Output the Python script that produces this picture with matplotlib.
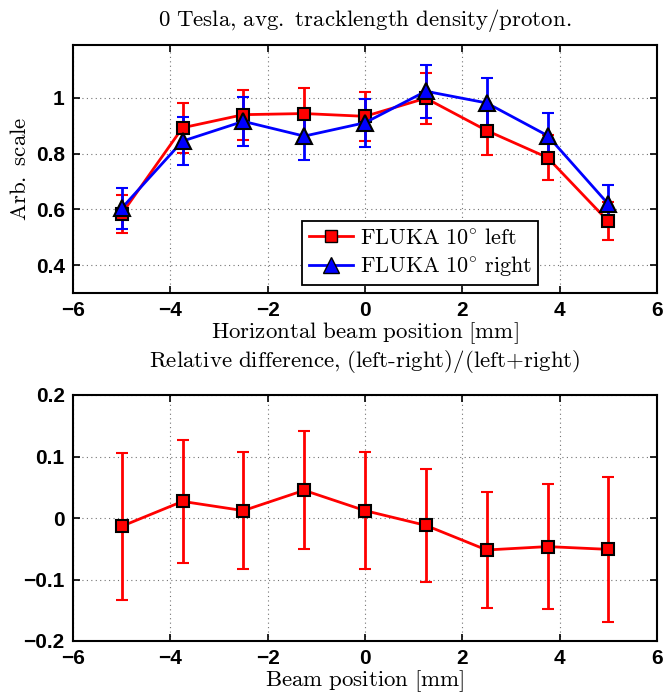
import matplotlib
matplotlib.use("Agg")
import matplotlib.pyplot as plt
from matplotlib.lines import Line2D
import numpy as np

plt.rcParams['mathtext.fontset'] = 'cm'

x = [-5, -3.75, -2.5, -1.25, 0, 1.25, 2.5, 3.75, 5]
left_vals = [0.584, 0.893, 0.940, 0.944, 0.934, 0.999, 0.883, 0.786, 0.557]
left_err = [0.068, 0.090, 0.090, 0.090, 0.089, 0.092, 0.087, 0.082, 0.068]
right_vals = [0.604, 0.845, 0.916, 0.863, 0.911, 1.024, 0.982, 0.865, 0.619]
right_err = [0.073, 0.085, 0.087, 0.085, 0.087, 0.095, 0.090, 0.082, 0.067]
diff_vals = [-0.0135, 0.027, 0.012, 0.045, 0.012, -0.012, -0.052, -0.0465, -0.051]
diff_err = [0.120, 0.100, 0.095, 0.096, 0.0955, 0.092, 0.095, 0.101, 0.118]

W, H = 670, 699
fig = plt.figure(figsize=(W/100, H/100), dpi=100)

def box(l, t, r, b):
    return [l/W, 1 - b/H, (r-l)/W, (b-t)/H]

ax1 = fig.add_axes(box(73, 45, 657, 293))
ax2 = fig.add_axes(box(73, 395, 657, 641))

tickfont = dict(family='Liberation Sans', weight='bold', size=15)
FS = 16.5

def style(ax):
    ax.grid(True, linestyle=(0, (1, 3)), color='0.45', linewidth=0.8)
    ax.tick_params(direction='in', top=True, right=True, length=5, width=1.2, pad=6)
    for s in ax.spines.values():
        s.set_linewidth(1.5)
    for lab in ax.get_xticklabels() + ax.get_yticklabels():
        lab.set_fontproperties(matplotlib.font_manager.FontProperties(**tickfont))

# top plot
ax1.errorbar(x, left_vals, yerr=left_err, color='red', lw=2, marker='s', ms=8,
             mfc='red', mec='black', mew=1.5, capsize=4, capthick=2, elinewidth=2, zorder=3)
ax1.errorbar(x, right_vals, yerr=right_err, color='blue', lw=2, marker='^', ms=11,
             mfc='blue', mec='black', mew=1.5, capsize=4, capthick=2, elinewidth=2, zorder=3)
ax1.set_xlim(-6, 6)
ax1.set_ylim(0.3, 1.19)
ax1.set_xticks(np.arange(-6, 7, 2))
ax1.set_yticks([0.4, 0.6, 0.8, 1.0])
ax1.set_yticklabels(['0.4', '0.6', '0.8', '1'])
ax1.set_xticklabels(['\u22126', '\u22124', '\u22122', '0', '2', '4', '6'])
style(ax1)
h_left = Line2D([], [], color='red', lw=2, marker='s', ms=8, mfc='red', mec='black', mew=1)
h_right = Line2D([], [], color='blue', lw=2, marker='^', ms=11, mfc='blue', mec='black', mew=1)
leg = ax1.legend([h_left, h_right],
                 [r'$\mathrm{FLUKA\ 10^{\circ}\ left}$', r'$\mathrm{FLUKA\ 10^{\circ}\ right}$'],
                 loc='lower left', bbox_to_anchor=(0.392, 0.032), fontsize=16,
                 frameon=True, fancybox=False, edgecolor='black', framealpha=1,
                 handlelength=2.0, borderpad=0.3, labelspacing=0.3, handletextpad=0.3,
                 borderaxespad=0)
leg.get_frame().set_linewidth(1.3)
ax1.set_title(r'$\mathrm{0\ Tesla{,}\ avg.\ tracklength\ density/proton.}$', fontsize=FS, pad=14)
ax1.set_xlabel(r'$\mathrm{Horizontal\ beam\ position\ [mm]}$', fontsize=FS, labelpad=0)
ax1.set_ylabel(r'$\mathrm{Arb.\ scale}$', fontsize=FS, labelpad=3)

# bottom plot
ax2.errorbar(x, diff_vals, yerr=diff_err, color='red', lw=2, marker='s', ms=8,
             mfc='red', mec='black', mew=1.5, capsize=4, capthick=2, elinewidth=2, zorder=3)
ax2.set_xlim(-6, 6)
ax2.set_ylim(-0.2, 0.2)
ax2.set_xticks(np.arange(-6, 7, 2))
ax2.set_yticks([-0.2, -0.1, 0, 0.1, 0.2])
ax2.set_yticklabels(['\u22120.2', '\u22120.1', '0', '0.1', '0.2'])
ax2.set_xticklabels(['\u22126', '\u22124', '\u22122', '0', '2', '4', '6'])
style(ax2)
ax2.set_title(r'$\mathrm{Relative\ difference{,}\ (left\text{-}right)/(left{+}right)}$', fontsize=FS, pad=20)
ax2.set_xlabel(r'$\mathrm{Beam\ position\ [mm]}$', fontsize=FS, labelpad=0)

fig.savefig('out.png', dpi=100)
